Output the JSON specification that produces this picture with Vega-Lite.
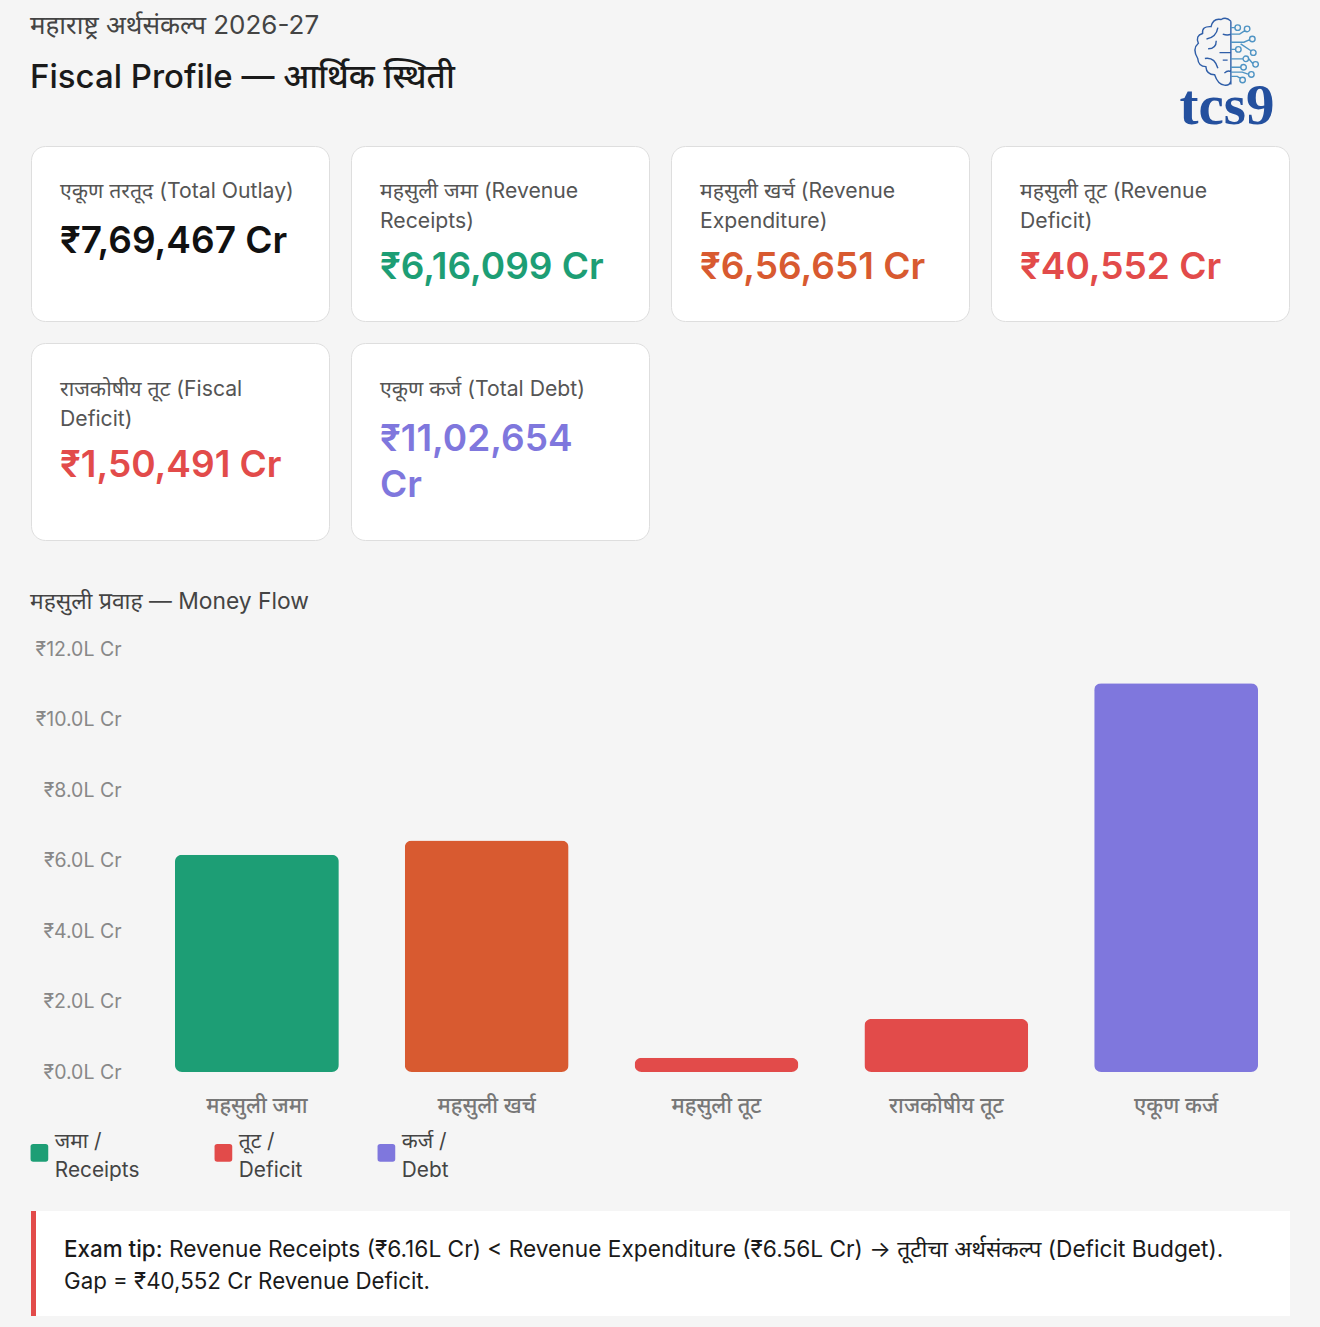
{"$schema":"https://vega.github.io/schema/vega-lite/v6.json","background":"#f5f5f5","padding":{"left":29,"top":0,"right":31,"bottom":11},"autosize":{"type":"pad"},"spacing":10,"resolve":{"scale":{"color":"independent"}},"config":{"view":{"stroke":null},"font":"Inter, Noto Sans, sans-serif"},"datasets":{"cards":[{"card":"outlay","label":"एकूण तरतूद (Total Outlay)","labelLines":1,"value":"₹7,69,467 Cr","tone":"neutral"},{"card":"receipts","label":"महसुली जमा (Revenue\nReceipts)","labelLines":2,"value":"₹6,16,099 Cr","tone":"receipts"},{"card":"expenditure","label":"महसुली खर्च (Revenue\nExpenditure)","labelLines":2,"value":"₹6,56,651 Cr","tone":"expenditure"},{"card":"revdeficit","label":"महसुली तूट (Revenue\nDeficit)","labelLines":2,"value":"₹40,552 Cr","tone":"deficit"},{"card":"fiscal","label":"राजकोषीय तूट (Fiscal\nDeficit)","labelLines":2,"value":"₹1,50,491 Cr","tone":"deficit"},{"card":"debt","label":"एकूण कर्ज (Total Debt)","labelLines":1,"value":"₹11,02,654\nCr","tone":"debt"}]},"vconcat":[{"width":1260,"height":124,"layer":[{"data":{"values":[{"text":"महाराष्ट्र अर्थसंकल्प 2026-27"}]},"mark":{"type":"text","align":"left","baseline":"middle","fontSize":26,"color":"#444444"},"encoding":{"x":{"datum":-1,"type":"quantitative","scale":{"domain":[0,1260],"range":[0,1260]},"axis":null},"y":{"datum":26,"type":"quantitative","scale":{"domain":[0,124],"range":[0,124]},"axis":null},"text":{"field":"text"}}},{"data":{"values":[{"text":"Fiscal Profile — आर्थिक स्थिती"}]},"mark":{"type":"text","align":"left","baseline":"middle","fontSize":33,"fontWeight":500,"color":"#1a1a1a"},"encoding":{"x":{"datum":-1,"type":"quantitative","scale":{"domain":[0,1260],"range":[0,1260]},"axis":null},"y":{"datum":78,"type":"quantitative","scale":{"domain":[0,124],"range":[0,124]},"axis":null},"text":{"field":"text"}}},{"data":{"values":[{"text":"tcs9"}]},"mark":{"type":"text","align":"center","baseline":"middle","fontSize":57,"fontWeight":"bold","font":"Liberation Serif","color":"#24509e"},"encoding":{"x":{"datum":1196,"type":"quantitative","scale":{"domain":[0,1260],"range":[0,1260]},"axis":null},"y":{"datum":107,"type":"quantitative","scale":{"domain":[0,124],"range":[0,124]},"axis":null},"text":{"field":"text"}}},{"data":{"values":[{"part":"brain"}]},"mark":{"type":"point","filled":false,"stroke":"#2f5ea8","strokeWidth":1.4,"opacity":1,"shape":"M0.15 -0.95 Q0 -1.1 -0.15 -1 Q-0.4 -1.05 -0.46 -0.78 Q-0.75 -0.8 -0.72 -0.57 Q-0.95 -0.5 -0.85 -0.27 Q-1.05 -0.1 -0.87 0.2 Q-0.85 0.45 -0.62 0.45 Q-0.6 0.7 -0.35 0.7 Q-0.25 1 -0.05 1.02 Q0.1 1.05 0.15 0.9 M0.15 -0.95 V1 M-0.6 -0.4 Q-0.3 -0.45 -0.25 -0.75 M-0.55 -0.1 Q-0.3 -0.1 -0.3 -0.35 M-0.1 -0.55 Q0.05 -0.5 0.15 -0.55 M-0.2 0.02 H0.15 M-0.65 0.2 Q-0.35 0.15 -0.25 0.5 M-0.1 0.25 H0.05 M-0.05 0.65 Q0.05 0.55 0.15 0.6"},"encoding":{"x":{"datum":1195,"type":"quantitative","scale":{"domain":[0,1260],"range":[0,1260]},"axis":null},"y":{"datum":52,"type":"quantitative","scale":{"domain":[0,124],"range":[0,124]},"axis":null},"size":{"value":4225}}},{"data":{"values":[{"part":"circuit"}]},"mark":{"type":"point","filled":false,"stroke":"#4f94c4","strokeWidth":1.4,"opacity":1,"shape":"M0.15 -0.75 H0.28 M0.15 -0.55 H0.42 L0.58 -0.66 M0.15 -0.3 H0.55 L0.73 -0.38 M0.15 -0.08 H0.3 M0.45 -0.25 L0.78 -0.03 M0.15 0.21 H0.53 M0.15 0.47 H0.46 M0.15 0.62 H0.5 L0.7 0.69 M0.15 0.75 H0.35 L0.45 0.82 M0.7 0.21 L0.83 0.36 M0.445 -0.75 a0.085 0.085 0 1 0 -0.17 0 a0.085 0.085 0 1 0 0.17 0 M0.735 -0.71 a0.085 0.085 0 1 0 -0.17 0 a0.085 0.085 0 1 0 0.17 0 M0.895 -0.4 a0.085 0.085 0 1 0 -0.17 0 a0.085 0.085 0 1 0 0.17 0 M0.465 -0.08 a0.085 0.085 0 1 0 -0.17 0 a0.085 0.085 0 1 0 0.17 0 M0.925 0.02 a0.085 0.085 0 1 0 -0.17 0 a0.085 0.085 0 1 0 0.17 0 M0.695 0.21 a0.085 0.085 0 1 0 -0.17 0 a0.085 0.085 0 1 0 0.17 0 M0.995 0.38 a0.085 0.085 0 1 0 -0.17 0 a0.085 0.085 0 1 0 0.17 0 M0.625 0.47 a0.085 0.085 0 1 0 -0.17 0 a0.085 0.085 0 1 0 0.17 0 M0.865 0.69 a0.085 0.085 0 1 0 -0.17 0 a0.085 0.085 0 1 0 0.17 0 M0.595 0.86 a0.085 0.085 0 1 0 -0.17 0 a0.085 0.085 0 1 0 0.17 0"},"encoding":{"x":{"datum":1195,"type":"quantitative","scale":{"domain":[0,1260],"range":[0,1260]},"axis":null},"y":{"datum":52,"type":"quantitative","scale":{"domain":[0,124],"range":[0,124]},"axis":null},"size":{"value":4225}}}]},{"spacing":20,"resolve":{"scale":{"color":"independent"}},"vconcat":[{"hconcat":[{"width":298,"height":175,"view":{"fill":"#ffffff","stroke":"#dedede","cornerRadius":14},"data":{"name":"cards"},"transform":[{"filter":"datum.card == 'outlay'"}],"layer":[{"mark":{"type":"text","align":"left","baseline":"top","fontSize":21.2,"lineHeight":29.5,"lineBreak":"\n","color":"#555555"},"encoding":{"x":{"datum":0,"type":"quantitative","scale":{"domain":[0,1],"range":[29,298]},"axis":null},"y":{"datum":-0.65,"type":"quantitative","scale":{"domain":[0,2],"range":[52,104]},"axis":null},"text":{"field":"label"}}},{"mark":{"type":"text","align":"left","baseline":"top","fontSize":37,"fontWeight":600,"lineHeight":46,"lineBreak":"\n"},"encoding":{"x":{"datum":0,"type":"quantitative","scale":{"domain":[0,1],"range":[29,298]},"axis":null},"y":{"field":"labelLines","type":"quantitative","scale":{"domain":[0,2],"range":[52,104]},"axis":null},"text":{"field":"value"},"color":{"field":"tone","type":"nominal","scale":{"domain":["neutral","receipts","expenditure","deficit","debt"],"range":["#111111","#1D9E75","#D85A30","#E24B4A","#7F77DD"]},"legend":null}}}]},{"width":298,"height":175,"view":{"fill":"#ffffff","stroke":"#dedede","cornerRadius":14},"data":{"name":"cards"},"transform":[{"filter":"datum.card == 'receipts'"}],"layer":[{"mark":{"type":"text","align":"left","baseline":"top","fontSize":21.2,"lineHeight":29.5,"lineBreak":"\n","color":"#555555"},"encoding":{"x":{"datum":0,"type":"quantitative","scale":{"domain":[0,1],"range":[29,298]},"axis":null},"y":{"datum":-0.65,"type":"quantitative","scale":{"domain":[0,2],"range":[52,104]},"axis":null},"text":{"field":"label"}}},{"mark":{"type":"text","align":"left","baseline":"top","fontSize":37,"fontWeight":600,"lineHeight":46,"lineBreak":"\n"},"encoding":{"x":{"datum":0,"type":"quantitative","scale":{"domain":[0,1],"range":[29,298]},"axis":null},"y":{"field":"labelLines","type":"quantitative","scale":{"domain":[0,2],"range":[52,104]},"axis":null},"text":{"field":"value"},"color":{"field":"tone","type":"nominal","scale":{"domain":["neutral","receipts","expenditure","deficit","debt"],"range":["#111111","#1D9E75","#D85A30","#E24B4A","#7F77DD"]},"legend":null}}}]},{"width":298,"height":175,"view":{"fill":"#ffffff","stroke":"#dedede","cornerRadius":14},"data":{"name":"cards"},"transform":[{"filter":"datum.card == 'expenditure'"}],"layer":[{"mark":{"type":"text","align":"left","baseline":"top","fontSize":21.2,"lineHeight":29.5,"lineBreak":"\n","color":"#555555"},"encoding":{"x":{"datum":0,"type":"quantitative","scale":{"domain":[0,1],"range":[29,298]},"axis":null},"y":{"datum":-0.65,"type":"quantitative","scale":{"domain":[0,2],"range":[52,104]},"axis":null},"text":{"field":"label"}}},{"mark":{"type":"text","align":"left","baseline":"top","fontSize":37,"fontWeight":600,"lineHeight":46,"lineBreak":"\n"},"encoding":{"x":{"datum":0,"type":"quantitative","scale":{"domain":[0,1],"range":[29,298]},"axis":null},"y":{"field":"labelLines","type":"quantitative","scale":{"domain":[0,2],"range":[52,104]},"axis":null},"text":{"field":"value"},"color":{"field":"tone","type":"nominal","scale":{"domain":["neutral","receipts","expenditure","deficit","debt"],"range":["#111111","#1D9E75","#D85A30","#E24B4A","#7F77DD"]},"legend":null}}}]},{"width":298,"height":175,"view":{"fill":"#ffffff","stroke":"#dedede","cornerRadius":14},"data":{"name":"cards"},"transform":[{"filter":"datum.card == 'revdeficit'"}],"layer":[{"mark":{"type":"text","align":"left","baseline":"top","fontSize":21.2,"lineHeight":29.5,"lineBreak":"\n","color":"#555555"},"encoding":{"x":{"datum":0,"type":"quantitative","scale":{"domain":[0,1],"range":[29,298]},"axis":null},"y":{"datum":-0.65,"type":"quantitative","scale":{"domain":[0,2],"range":[52,104]},"axis":null},"text":{"field":"label"}}},{"mark":{"type":"text","align":"left","baseline":"top","fontSize":37,"fontWeight":600,"lineHeight":46,"lineBreak":"\n"},"encoding":{"x":{"datum":0,"type":"quantitative","scale":{"domain":[0,1],"range":[29,298]},"axis":null},"y":{"field":"labelLines","type":"quantitative","scale":{"domain":[0,2],"range":[52,104]},"axis":null},"text":{"field":"value"},"color":{"field":"tone","type":"nominal","scale":{"domain":["neutral","receipts","expenditure","deficit","debt"],"range":["#111111","#1D9E75","#D85A30","#E24B4A","#7F77DD"]},"legend":null}}}]}],"spacing":20},{"hconcat":[{"width":298,"height":197,"view":{"fill":"#ffffff","stroke":"#dedede","cornerRadius":14},"data":{"name":"cards"},"transform":[{"filter":"datum.card == 'fiscal'"}],"layer":[{"mark":{"type":"text","align":"left","baseline":"top","fontSize":21.2,"lineHeight":29.5,"lineBreak":"\n","color":"#555555"},"encoding":{"x":{"datum":0,"type":"quantitative","scale":{"domain":[0,1],"range":[29,298]},"axis":null},"y":{"datum":-0.65,"type":"quantitative","scale":{"domain":[0,2],"range":[53,105]},"axis":null},"text":{"field":"label"}}},{"mark":{"type":"text","align":"left","baseline":"top","fontSize":37,"fontWeight":600,"lineHeight":46,"lineBreak":"\n"},"encoding":{"x":{"datum":0,"type":"quantitative","scale":{"domain":[0,1],"range":[29,298]},"axis":null},"y":{"field":"labelLines","type":"quantitative","scale":{"domain":[0,2],"range":[53,105]},"axis":null},"text":{"field":"value"},"color":{"field":"tone","type":"nominal","scale":{"domain":["neutral","receipts","expenditure","deficit","debt"],"range":["#111111","#1D9E75","#D85A30","#E24B4A","#7F77DD"]},"legend":null}}}]},{"width":298,"height":197,"view":{"fill":"#ffffff","stroke":"#dedede","cornerRadius":14},"data":{"name":"cards"},"transform":[{"filter":"datum.card == 'debt'"}],"layer":[{"mark":{"type":"text","align":"left","baseline":"top","fontSize":21.2,"lineHeight":29.5,"lineBreak":"\n","color":"#555555"},"encoding":{"x":{"datum":0,"type":"quantitative","scale":{"domain":[0,1],"range":[29,298]},"axis":null},"y":{"datum":-0.65,"type":"quantitative","scale":{"domain":[0,2],"range":[53,105]},"axis":null},"text":{"field":"label"}}},{"mark":{"type":"text","align":"left","baseline":"top","fontSize":37,"fontWeight":600,"lineHeight":46,"lineBreak":"\n"},"encoding":{"x":{"datum":0,"type":"quantitative","scale":{"domain":[0,1],"range":[29,298]},"axis":null},"y":{"datum":1,"type":"quantitative","scale":{"domain":[0,2],"range":[53,105]},"axis":null},"text":{"field":"value"},"color":{"field":"tone","type":"nominal","scale":{"domain":["neutral","receipts","expenditure","deficit","debt"],"range":["#111111","#1D9E75","#D85A30","#E24B4A","#7F77DD"]},"legend":null}}}]}],"spacing":20},{"width":1260,"height":58,"data":{"values":[{"text":"महसुली प्रवाह — Money Flow"}]},"mark":{"type":"text","align":"left","baseline":"middle","fontSize":22.8,"color":"#444444"},"encoding":{"x":{"datum":-1,"type":"quantitative","scale":{"domain":[0,1260],"range":[0,1260]},"axis":null},"y":{"datum":41,"type":"quantitative","scale":{"domain":[0,58],"range":[0,58]},"axis":null},"text":{"field":"text"}}},{"spacing":27,"resolve":{"scale":{"color":"independent"}},"vconcat":[{"width":1260,"height":423,"data":{"values":[{"item":"महसुली जमा","amount":616099,"kind":"जमा / Receipts"},{"item":"महसुली खर्च","amount":656651,"kind":"खर्च / Expenditure"},{"item":"महसुली तूट","amount":40552,"kind":"तूट / Deficit"},{"item":"राजकोषीय तूट","amount":150491,"kind":"तूट / Deficit"},{"item":"एकूण कर्ज","amount":1102654,"kind":"कर्ज / Debt"}]},"mark":{"type":"bar","cornerRadius":7},"encoding":{"x":{"field":"item","type":"nominal","sort":null,"title":null,"scale":{"type":"band","range":[111,1260],"paddingInner":0.287,"paddingOuter":0.1435},"axis":{"domain":false,"ticks":false,"labelAngle":0,"labelPadding":34,"labelFontSize":21.5,"labelColor":"#777777","labelFontWeight":500,"labelBaseline":"middle"}},"y":{"field":"amount","type":"quantitative","title":null,"scale":{"domain":[0,1200000],"nice":false},"axis":{"values":[0,200000,400000,600000,800000,1000000,1200000],"offset":-111,"domain":false,"ticks":false,"grid":false,"labelPadding":21,"labelFontSize":19.5,"labelColor":"#888888","labelExpr":"'₹' + format(datum.value / 100000, '.1f') + 'L Cr'"}},"color":{"field":"kind","type":"nominal","scale":{"domain":["जमा / Receipts","खर्च / Expenditure","तूट / Deficit","कर्ज / Debt"],"range":["#1D9E75","#D85A30","#E24B4A","#7F77DD"]},"legend":{"values":["जमा / Receipts","तूट / Deficit","कर्ज / Debt"],"title":null,"orient":"none","legendX":-2,"legendY":493,"direction":"horizontal","columns":3,"columnPadding":73,"labelFontSize":20.8,"labelColor":"#444444","labelOffset":5,"labelLimit":200,"symbolSize":313,"symbolStrokeWidth":0,"symbolOpacity":1,"symbolType":"M-0.7 -1 H0.7 Q1 -1 1 -0.7 V0.7 Q1 1 0.7 1 H-0.7 Q-1 1 -1 0.7 V-0.7 Q-1 -1 -0.7 -1 Z","labelExpr":"[split(datum.label, ' / ')[0] + ' /', split(datum.label, ' / ')[1]]","encoding":{"labels":{"lineHeight":{"value":29},"dy":{"value":-11}}}}}}},{"width":1259,"height":105,"view":{"fill":"#ffffff"},"layer":[{"data":{"values":[{"edge":"left"}]},"mark":{"type":"rule","strokeWidth":5,"color":"#E24B4A"},"encoding":{"x":{"datum":2.5,"type":"quantitative","scale":{"domain":[0,1260],"range":[0,1260]},"axis":null}}},{"data":{"values":[{"text":"Exam tip:"}]},"mark":{"type":"text","align":"left","baseline":"middle","fontSize":22.4,"fontWeight":500,"color":"#1a1a1a"},"encoding":{"x":{"datum":33,"type":"quantitative","scale":{"domain":[0,1260],"range":[0,1260]},"axis":null},"y":{"datum":39,"type":"quantitative","scale":{"domain":[0,105],"range":[0,105]},"axis":null},"text":{"field":"text"}}},{"data":{"values":[{"text":"Revenue Receipts (₹6.16L Cr) < Revenue Expenditure (₹6.56L Cr) → तूटीचा अर्थसंकल्प (Deficit Budget)."}]},"mark":{"type":"text","align":"left","baseline":"middle","fontSize":22.7,"color":"#1a1a1a"},"encoding":{"x":{"datum":138,"type":"quantitative","scale":{"domain":[0,1260],"range":[0,1260]},"axis":null},"y":{"datum":39,"type":"quantitative","scale":{"domain":[0,105],"range":[0,105]},"axis":null},"text":{"field":"text"}}},{"data":{"values":[{"text":"Gap = ₹40,552 Cr Revenue Deficit."}]},"mark":{"type":"text","align":"left","baseline":"middle","fontSize":22.3,"color":"#1a1a1a"},"encoding":{"x":{"datum":33,"type":"quantitative","scale":{"domain":[0,1260],"range":[0,1260]},"axis":null},"y":{"datum":71,"type":"quantitative","scale":{"domain":[0,105],"range":[0,105]},"axis":null},"text":{"field":"text"}}}]}]}]}]}
